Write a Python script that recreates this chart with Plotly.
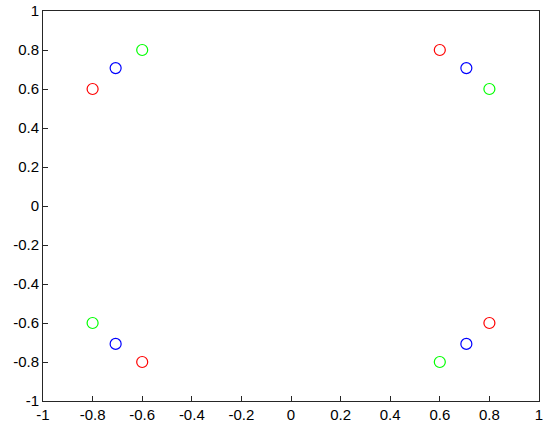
import plotly.graph_objects as go

red_x = [-0.8, 0.6, 0.8, -0.6]
red_y = [0.6, 0.8, -0.6, -0.8]
blue_x = [-0.7071, 0.7071, 0.7071, -0.7071]
blue_y = [0.7071, 0.7071, -0.7071, -0.7071]
green_x = [-0.6, 0.8, 0.6, -0.8]
green_y = [0.8, 0.6, -0.8, -0.6]

tick_vals = [-1, -0.8, -0.6, -0.4, -0.2, 0, 0.2, 0.4, 0.6, 0.8, 1]
tick_text = ['-1', '-0.8', '-0.6', '-0.4', '-0.2', '0', '0.2', '0.4', '0.6', '0.8', '1']

fig = go.Figure()
for xs, ys, c in [(red_x, red_y, '#ff0000'), (blue_x, blue_y, '#0000ff'), (green_x, green_y, '#00ff00')]:
    fig.add_trace(go.Scatter(
        x=xs, y=ys, mode='markers',
        marker=dict(symbol='circle-open', size=11, color=c, line=dict(width=1.2)),
        showlegend=False
    ))

axis = dict(
    range=[-1, 1], tickvals=tick_vals, ticktext=tick_text,
    ticks='inside', ticklen=5, tickcolor='#262626', tickwidth=1,
    showline=True, linecolor='#262626', linewidth=1, mirror=True,
    showgrid=False, zeroline=False, automargin=False,
    tickfont=dict(family='Liberation Sans, Arial', size=15, color='#000000'),
)

fig.update_layout(
    width=550, height=434,
    margin=dict(l=43, r=11, t=11, b=33),
    plot_bgcolor='white', paper_bgcolor='white',
    xaxis=axis, yaxis=axis,
)

# drop the browser's default body margin so the figure sits at the page corner
fig.write_html("out.html", config={'displayModeBar': False},
               post_script="document.body.style.margin='0';")
